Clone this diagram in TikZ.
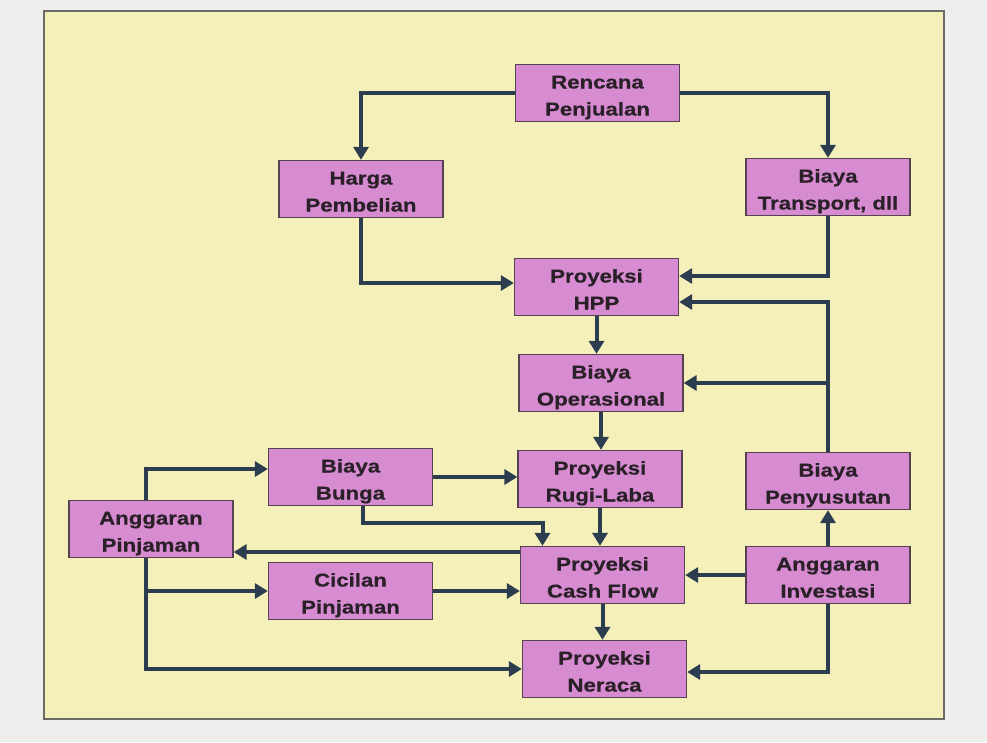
\documentclass[tikz,border=0pt]{standalone}
\usepackage{fontspec}
\newfontfamily\boxfont[FakeStretch=1.2,FakeBold=0.6]{Liberation Sans Bold}
\usetikzlibrary{arrows.meta,calc}
\definecolor{pagebg}{HTML}{EEEFEC}
\definecolor{panelbg}{HTML}{F5EFBA}
\definecolor{panelline}{HTML}{6A6A66}
\definecolor{boxfill}{HTML}{D78BD1}
\definecolor{boxline}{HTML}{554351}
\definecolor{arrowcol}{HTML}{2C3D4F}
\definecolor{textcol}{HTML}{2A2028}
\begin{document}
\begin{tikzpicture}[x=1pt,y=-1pt,
  box/.style={draw=boxline, line width=1.3pt, fill=boxfill, inner sep=0pt,
    minimum width=164pt, minimum height=57pt, align=center, text=textcol,
    text height=45pt, text depth=0pt,
    font=\fontsize{18.5}{27}\selectfont\boxfont},
  arr/.style={draw=arrowcol, line width=4pt,
    -{Triangle[length=13pt,width=15pt]}}]
\useasboundingbox (0,0) rectangle (987,742);
\fill[pagebg] (0,0) rectangle (987,742);
\draw[panelline, fill=panelbg, line width=1.4pt] (44,11) rectangle (944,719);

\node[box] (rp)  at (597.5,93)  {Rencana\\Penjualan};
\node[box] (hp)  at (361,189)   {Harga\\Pembelian};
\node[box] (bt)  at (828,187)   {Biaya\\Transport, dll};
\node[box] (hpp) at (596.5,287) {Proyeksi\\HPP};
\node[box] (bop) at (601,383)   {Biaya\\Operasional};
\node[box] (bb)  at (350.5,477) {Biaya\\Bunga};
\node[box] (rl)  at (600,479)   {Proyeksi\\Rugi-Laba};
\node[box] (bpy) at (828,481)   {Biaya\\Penyusutan};
\node[box] (ap)  at (151,529)   {Anggaran\\Pinjaman};
\node[box] (cf)  at (602.5,575) {Proyeksi\\Cash Flow};
\node[box] (ai)  at (828,575)   {Anggaran\\Investasi};
\node[box] (cp)  at (350.5,591) {Cicilan\\Pinjaman};
\node[box] (nr)  at (604.5,669) {Proyeksi\\Neraca};

\coordinate (apx) at ([xshift=-5pt]ap.south);
\coordinate (apn) at ([xshift=-5pt]ap.north);

% top part
\draw[arr] (rp.west) -| (hp.north);
\draw[arr] (rp.east) -| (bt.north);
\draw[arr] (hp.south) |- ([yshift=4pt]hpp.west);
\draw[arr] (bt.south) |- ([yshift=11pt]hpp.east);
\draw[arr] (bpy.north) |- ([yshift=-15pt]hpp.east);
\draw[arr] (bpy.north |- bop.east) -- (bop.east);
\draw[arr] (hpp.south) -- (hpp.south |- bop.north);
\draw[arr] (bop.south) -- (bop.south |- rl.north);
\draw[arr] (rl.south) -- (rl.south |- cf.north);
\draw[arr] (cf.south) -- (cf.south |- nr.north);

% left part
\draw[arr] (bb.east) -- (bb.east -| rl.west);
\draw[arr] ([xshift=12pt]bb.south) -- ++(0,17) -| ([xshift=-60pt]cf.north);
\draw[arr] ([yshift=23pt]cf.west) -- ([yshift=23pt]cf.west -| ap.east);
\draw[arr] (apn) |- ([yshift=8pt]bb.west);
\draw[arr] (apx) |- (nr.west);
\draw[arr] (apx |- cp.west) -- (cp.west);
\draw[arr] (cp.east) -- (cp.east -| cf.west);

% right part
\draw[arr] (ai.west) -- (ai.west -| cf.east);
\draw[arr] (ai.north) -- (ai.north |- bpy.south);
\draw[arr] (ai.south) |- ([yshift=-3pt]nr.east);
\end{tikzpicture}
\end{document}
